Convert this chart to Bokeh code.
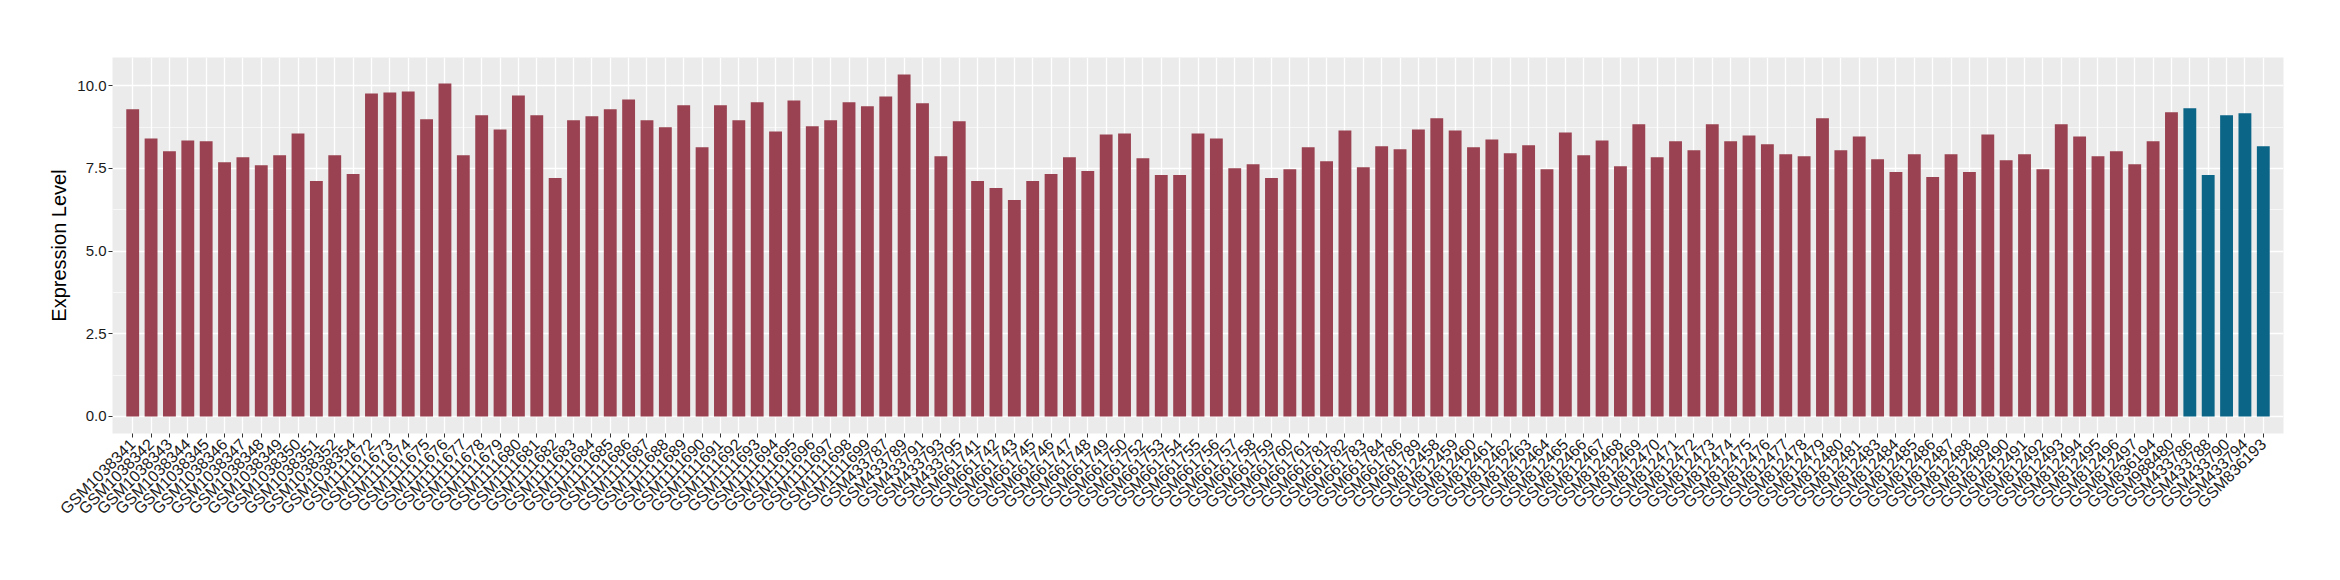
import math
from bokeh.plotting import figure
from bokeh.models import FactorRange, Range1d, FixedTicker, ColumnDataSource, PrintfTickFormatter
from bokeh.transform import factor_cmap
from bokeh.embed import file_html
from bokeh.resources import INLINE

samples = [
    "GSM1038341", "GSM1038342", "GSM1038343", "GSM1038344", "GSM1038345", "GSM1038346", "GSM1038347",
    "GSM1038348", "GSM1038349", "GSM1038350", "GSM1038351", "GSM1038352", "GSM1038354",
    "GSM1111672", "GSM1111673", "GSM1111674", "GSM1111675", "GSM1111676", "GSM1111677", "GSM1111678",
    "GSM1111679", "GSM1111680", "GSM1111681", "GSM1111682", "GSM1111683", "GSM1111684", "GSM1111685",
    "GSM1111686", "GSM1111687", "GSM1111688", "GSM1111689", "GSM1111690", "GSM1111691", "GSM1111692",
    "GSM1111693", "GSM1111694", "GSM1111695", "GSM1111696", "GSM1111697", "GSM1111698", "GSM1111699",
    "GSM433787", "GSM433789", "GSM433791", "GSM433793", "GSM433795",
    "GSM661741", "GSM661742", "GSM661743", "GSM661745", "GSM661746", "GSM661747", "GSM661748",
    "GSM661749", "GSM661750", "GSM661752", "GSM661753", "GSM661754", "GSM661755", "GSM661756",
    "GSM661757", "GSM661758", "GSM661759", "GSM661760", "GSM661761", "GSM661781", "GSM661782",
    "GSM661783", "GSM661784", "GSM661786", "GSM661789",
    "GSM812458", "GSM812459", "GSM812460", "GSM812461", "GSM812462", "GSM812463", "GSM812464",
    "GSM812465", "GSM812466", "GSM812467", "GSM812468", "GSM812469", "GSM812470", "GSM812471",
    "GSM812472", "GSM812473", "GSM812474", "GSM812475", "GSM812476", "GSM812477", "GSM812478",
    "GSM812479", "GSM812480", "GSM812481", "GSM812483", "GSM812484", "GSM812485", "GSM812486",
    "GSM812487", "GSM812488", "GSM812489", "GSM812490", "GSM812491", "GSM812492", "GSM812493",
    "GSM812494", "GSM812495", "GSM812496", "GSM812497",
    "GSM836194", "GSM988480",
    "GSM433786", "GSM433788", "GSM433790", "GSM433794", "GSM836193",
]

values = [
    9.29, 8.41, 8.02, 8.35, 8.32, 7.69, 7.84, 7.60, 7.90, 8.56, 7.12, 7.90, 7.33,
    9.77, 9.80, 9.83, 8.99, 10.07, 7.90, 9.11, 8.68, 9.71, 9.11, 7.21, 8.96, 9.08, 9.29, 9.59,
    8.96, 8.75, 9.41, 8.14, 9.41, 8.96, 9.50, 8.62, 9.56, 8.78, 8.96, 9.50, 9.38,
    9.68, 10.34, 9.47, 7.87, 8.93,
    7.12, 6.91, 6.55, 7.12, 7.33, 7.84, 7.42, 8.53, 8.56, 7.81, 7.30, 7.30, 8.56, 8.41, 7.51,
    7.63, 7.21, 7.48, 8.14, 7.72, 8.65, 7.54, 8.17, 8.08, 8.68,
    9.02, 8.65, 8.14, 8.38, 7.96, 8.20, 7.48, 8.59, 7.90, 8.35, 7.57, 8.84, 7.84, 8.32, 8.05,
    8.84, 8.32, 8.50, 8.23, 7.93, 7.87, 9.02, 8.05, 8.47, 7.78, 7.39, 7.93, 7.24, 7.93, 7.39,
    8.53, 7.75, 7.93, 7.48, 8.84, 8.47, 7.87, 8.02, 7.63,
    8.32, 9.20,
    9.32, 7.30, 9.11, 9.17, 8.17,
]

groups = ["other"] * 112 + ["highlight"] * 5

y_ticks = [0.0, 2.5, 5.0, 7.5, 10.0]
y_minor = [1.25, 3.75, 6.25, 8.75]

RED = "#9A4251"
BLUE = "#0B6586"
FONT = "Liberation Sans"

src = ColumnDataSource(data=dict(sample=samples, value=values, group=groups))

n = len(samples)
vmax = max(values)
p = figure(
    width=2324, height=564,
    x_range=FactorRange(factors=samples, range_padding=1.2 / n, range_padding_units="percent"),
    y_range=Range1d(-0.05 * vmax, 1.05 * vmax),
    output_backend="svg", toolbar_location=None,
    min_border_left=112, min_border_right=41, min_border_top=57, min_border_bottom=131,
)

p.vbar(x="sample", top="value", bottom=0, width=0.7, source=src, line_color=None,
       fill_color=factor_cmap("group", palette=[RED, BLUE], factors=["other", "highlight"]))

p.background_fill_color = "#EBEBEB"
p.border_fill_color = "white"
p.outline_line_color = None

p.yaxis.ticker = FixedTicker(ticks=y_ticks, minor_ticks=y_minor)
p.yaxis.formatter = PrintfTickFormatter(format="%.1f")
p.yaxis.axis_label = "Expression Level"
p.yaxis.axis_label_text_font = FONT
p.yaxis.axis_label_text_font_size = "20px"
p.yaxis.axis_label_text_font_style = "normal"
p.yaxis.axis_label_text_color = "#000000"
p.yaxis.axis_label_standoff = 4
p.yaxis.major_label_standoff = 2

for ax in (p.xaxis, p.yaxis):
    ax.axis_line_color = None
    ax.major_tick_line_color = "#333333"
    ax.major_tick_out = 4
    ax.major_tick_in = 0
    ax.minor_tick_line_color = None
    ax.major_label_text_font = FONT
    ax.major_label_text_color = "#1A1A1A"

p.yaxis.major_label_text_font_size = "15px"
p.xaxis.major_label_text_font_size = "16px"
p.xaxis.major_label_orientation = math.pi / 4
p.xaxis.major_label_standoff = 4

p.xgrid.grid_line_color = "white"
p.xgrid.grid_line_width = 1.3
p.ygrid.grid_line_color = "white"
p.ygrid.grid_line_width = 1.3
p.ygrid.minor_grid_line_color = "white"
p.ygrid.minor_grid_line_width = 0.6

open("out.html", "w").write(file_html(p, INLINE))
